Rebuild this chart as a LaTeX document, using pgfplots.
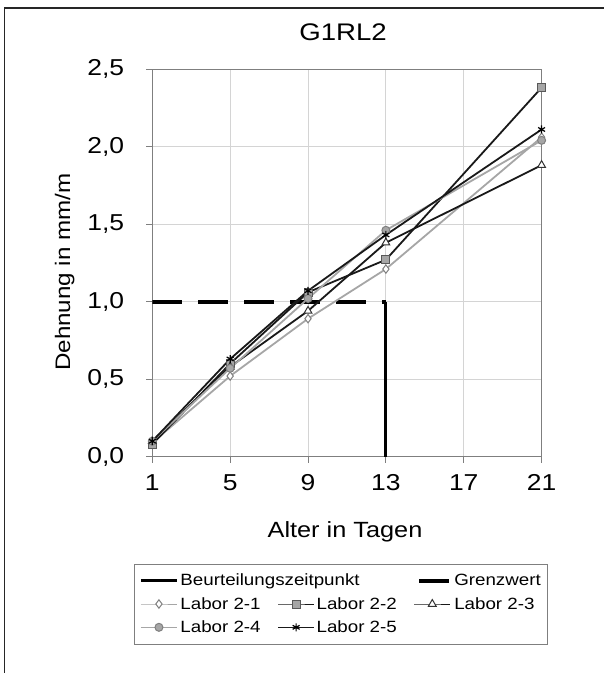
\documentclass[border=0pt]{standalone}
\usepackage{fontspec}
\setmainfont{Liberation Sans}[FakeStretch=1.15]
\usepackage{pgfplots}
\pgfplotsset{compat=1.18}

\definecolor{lgray}{HTML}{A6A6A6}
\definecolor{mgray}{HTML}{7F7F7F}
\definecolor{gridc}{HTML}{D4D4D4}

\begin{document}
\begin{tikzpicture}[x=1pt,y=1pt]
    % page frame (left and top edge only, as in the scan)
    \path[use as bounding box] (0,0) rectangle (604,673);
    \draw[line width=1.5pt, black!85] (4.5,0) -- (4.5,665) -- (604,665);

    \begin{axis}[
        at={(152.3pt,216.3pt)}, anchor=south west,
        scale only axis,
        width=389.3pt, height=387.7pt,
        xmin=1, xmax=21, ymin=0, ymax=2.5,
        xtick={1,5,9,13,17,21},
        xticklabels={1,5,9,13,17,21},
        ytick={0,0.5,1,1.5,2,2.5},
        yticklabels={{0,0},{0,5},{1,0},{1,5},{2,0},{2,5}},
        tick pos=left,
        tick align=outside,
        major tick length=6pt,
        tick style={mgray, line width=0.8pt},
        axis line style={mgray, line width=0.9pt},
        grid=major,
        grid style={gridc, line width=0.9pt},
        x tick label style={font=\fontsize{23}{26}\selectfont, anchor=center, yshift=-20pt},
        y tick label style={font=\fontsize{23}{26}\selectfont, anchor=east, xshift=-18pt},
        title={G1RL2},
        title style={font=\fontsize{24}{28}\selectfont, at={(axis description cs:0.49,1.08)}, anchor=center},
        xlabel={Alter in Tagen},
        xlabel style={font=\fontsize{22}{26}\selectfont, at={(axis description cs:0.495,-0.193)}, anchor=center},
        ylabel={Dehnung in mm/m},
        ylabel style={font=\fontsize{21}{25}\selectfont, at={(axis description cs:-0.225,0.476)}, anchor=center},
        legend columns=3,
        legend cell align=left,
        legend image code/.code={\draw[mark repeat=2,mark phase=2,#1] plot coordinates {(0pt,0pt) (18pt,0pt) (36pt,0pt)};},
        legend style={
            at={(axis description cs:-0.047,-0.2757)}, anchor=north west,
            font=\fontsize{16.3}{19}\selectfont,
            draw=mgray, line width=0.9pt,
            inner xsep=5pt, inner ysep=8pt,
            row sep=6pt,
            /tikz/every even column/.append style={column sep=15pt},
        },
        line width=1.8pt,
        mark size=4pt,
    ]

    % Beurteilungszeitpunkt
    \addplot[black, line width=3pt, no marks] coordinates {(13,0) (13,1.0)};
    \addlegendentry{\makebox[0pt][l]{Beurteilungszeitpunkt}}
    \addlegendimage{empty legend}
    \addlegendentry{}

    % Grenzwert
    \addplot[black, line width=4pt, no marks, dash pattern=on 30pt off 16pt,
        legend image code/.code={\draw[black, line width=4pt] (5pt,0pt) -- (36pt,0pt);}]
        coordinates {(1,1.0) (13,1.0)};
    \addlegendentry{Grenzwert}

    % Labor 2-1
    \addplot[lgray, mark=diamond*, mark size=4.2pt,
        mark options={fill=white, draw=mgray, line width=1pt}]
        coordinates {(1,0.09) (5,0.52) (9,0.89) (13,1.21) (21,2.06)};
    \addlegendentry{Labor 2-1}

    % Labor 2-2
    \addplot[black!90, mark=square*,
        mark options={fill=lgray, draw=black!65, line width=1pt}]
        coordinates {(1,0.08) (5,0.60) (9,1.06) (13,1.27) (21,2.38)};
    \addlegendentry{Labor 2-2}

    % Labor 2-3
    \addplot[black!90, mark=triangle*, mark size=4.5pt,
        mark options={fill=white, draw=black!80, line width=1pt}]
        coordinates {(1,0.10) (5,0.58) (9,0.94) (13,1.38) (21,1.88)};
    \addlegendentry{Labor 2-3}

    % Labor 2-4
    \addplot[lgray, mark=*,
        mark options={fill=lgray, draw=mgray, line width=1pt}]
        coordinates {(1,0.10) (5,0.57) (9,1.02) (13,1.46) (21,2.04)};
    \addlegendentry{Labor 2-4}

    % Labor 2-5
    \addplot[black!90, mark=asterisk,
        mark options={draw=black, line width=1.2pt}]
        coordinates {(1,0.10) (5,0.63) (9,1.07) (13,1.43) (21,2.11)};
    \addlegendentry{Labor 2-5}

    \end{axis}
\end{tikzpicture}
\end{document}
